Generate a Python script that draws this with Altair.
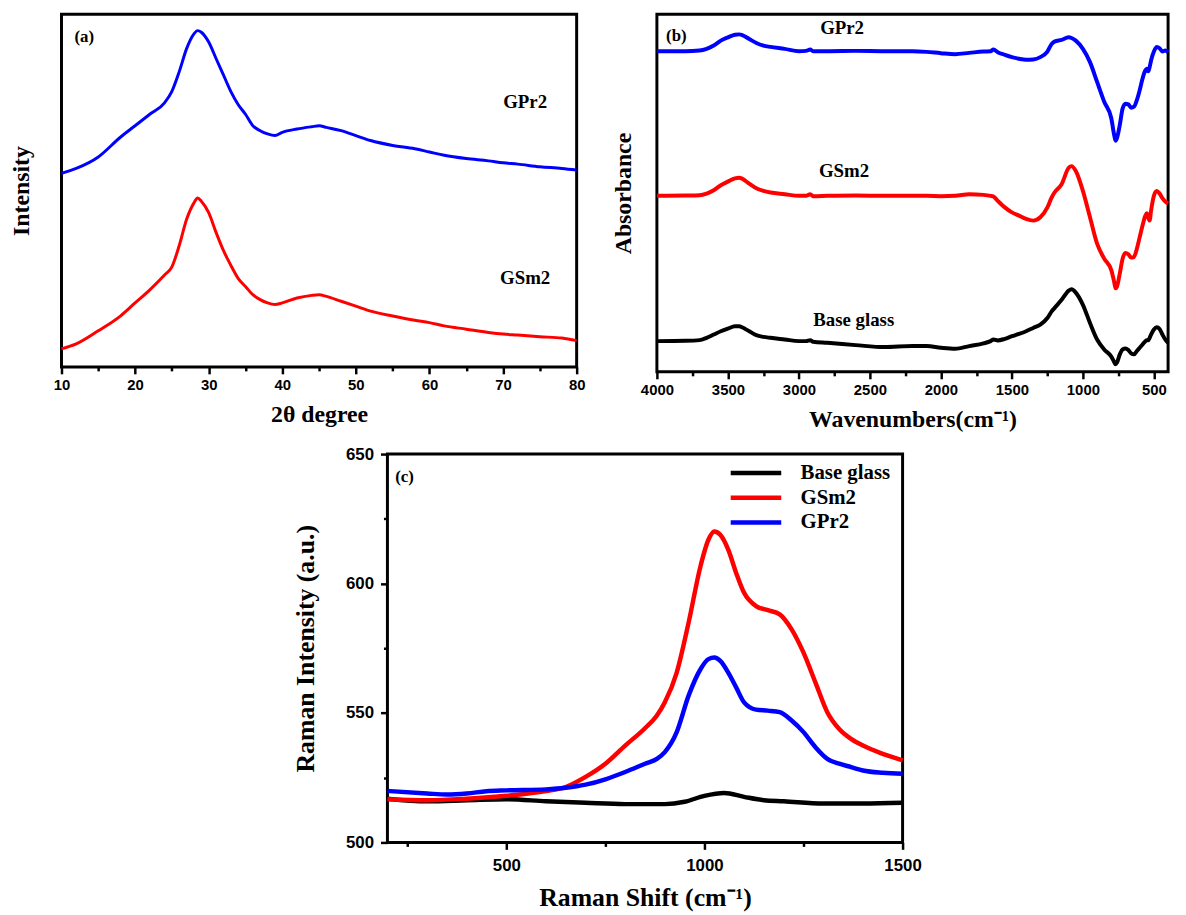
import altair as alt
import pandas as pd

# ---------------- (a) XRD ----------------
xrd_2theta = [10, 12, 15, 18, 20, 22, 24, 25, 26, 27, 28, 28.5, 29, 30, 31, 32, 33, 34, 35, 36,
              37, 38, 39, 40, 42, 44, 45, 46, 48, 50, 52, 55, 58, 60, 62, 65, 68, 70, 72, 75, 78, 80]
xrd_gpr2 = [590, 605, 640, 700, 735, 770, 805, 840, 900, 970, 1015, 1025, 1020, 990, 940, 890, 840, 800, 770, 735,
            720, 710, 705, 715, 725, 732, 735, 730, 720, 705, 690, 675, 665, 655, 645, 635, 628, 622, 618, 610, 605, 600]
xrd_gsm2 = [55, 70, 110, 155, 195, 235, 280, 305, 370, 450, 500, 515, 505, 470, 410, 355, 310, 270, 245, 220,
            205, 195, 190, 195, 210, 218, 220, 215, 200, 185, 170, 155, 142, 135, 125, 115, 105, 100, 97, 92, 88, 80]

# ---------------- (b) FTIR ----------------
ftir_wn = [4000, 3800, 3700, 3650, 3600, 3550, 3500, 3450, 3420, 3400,
           3350, 3300, 3250, 3200, 3100, 3000, 2950, 2920, 2900, 2800,
           2600, 2400, 2200, 2100, 2000, 1900, 1800, 1700, 1650, 1630,
           1600, 1550, 1500, 1450, 1400, 1350, 1300, 1250, 1220, 1200,
           1150, 1100, 1080, 1050, 1000, 950, 900, 850, 800, 780,
           770, 760, 740, 720, 700, 680, 660, 640, 620, 600,
           580, 560, 550, 540, 530, 520, 500, 480, 460, 440,
           420, 400]
ftir_gpr2 = [971, 971, 973, 978, 988, 1003, 1013, 1021, 1022, 1020,
             1008, 996, 988, 984, 978, 971, 972, 976, 971, 971,
             972, 971, 971, 969, 965, 962, 966, 970, 971, 976,
             968, 960, 953, 948, 945, 946, 953, 970, 993, 1000,
             1005, 1013, 1011, 1003, 978, 938, 878, 818, 768, 718,
             700, 708, 748, 798, 812, 810, 800, 803, 823, 853,
             888, 913, 918, 910, 923, 943, 970, 984, 980, 970,
             973, 968]
ftir_gsm2 = [533, 534, 535, 540, 550, 565, 576, 586, 588, 585,
             570, 556, 548, 543, 538, 533, 533, 538, 532, 533,
             534, 533, 533, 533, 532, 533, 538, 536, 533, 531,
             518, 498, 483, 473, 463, 458, 468, 498, 528, 543,
             568, 618, 623, 608, 548, 468, 388, 343, 308, 273,
             253, 258, 298, 343, 360, 356, 346, 348, 373, 408,
             443, 473, 480, 468, 458, 488, 533, 548, 540, 526,
             516, 510]
ftir_base = [93, 94, 96, 103, 113, 123, 131, 138, 138, 135,
             123, 111, 106, 103, 98, 93, 93, 96, 91, 88,
             81, 75, 78, 78, 73, 70, 78, 86, 93, 98,
             95, 100, 108, 115, 123, 133, 143, 163, 183, 193,
             218, 246, 250, 240, 203, 148, 98, 68, 46, 30,
             23, 28, 53, 68, 71, 66, 56, 53, 63, 73,
             83, 93, 96, 96, 103, 113, 128, 135, 130, 113,
             98, 88]

# ---------------- (c) Raman ----------------
raman_x_base = [200, 300, 400, 500, 600, 700, 800, 900, 950, 1000, 1050, 1100, 1150, 1200, 1300, 1400, 1500]
raman_base = [516.9, 515.9, 516.3, 516.7, 515.9, 515.3, 514.8, 514.8, 515.7, 518.0, 519.1, 517.6, 516.3,
              515.9, 515.0, 515.0, 515.3]
raman_x_gsm2 = [200, 300, 400, 500, 600, 650, 700, 750, 800, 850, 880, 900, 930, 960, 990, 1010, 1025, 1040,
                1060, 1080, 1100, 1130, 1160, 1190, 1220, 1250, 1280, 1310, 1340, 1370, 1400, 1450, 1500]
raman_gsm2 = [516.7, 516.3, 516.9, 518.0, 519.8, 521.4, 525.3, 530.4, 537.4, 544.1, 549.0, 554.1, 565.6, 584.9,
              606.7, 616.9, 620.1, 618.8, 613.1, 604.1, 596.4, 591.3, 589.7, 588.1, 582.3, 573.3, 561.8, 550.3,
              543.8, 540.0, 537.4, 534.2, 531.7]
raman_x_gpr2 = [200, 300, 350, 400, 450, 500, 600, 650, 700, 750, 800, 850, 880, 900, 930, 960, 990, 1010, 1025,
                1040, 1060, 1080, 1100, 1130, 1160, 1190, 1220, 1250, 1280, 1310, 1340, 1370, 1400, 1450, 1500]
raman_gpr2 = [519.9, 518.9, 518.5, 518.9, 519.8, 520.1, 520.5, 521.1, 522.3, 524.4, 527.2, 530.4, 532.3, 534.9,
              542.6, 556.7, 566.9, 570.8, 571.4, 570.1, 565.6, 559.9, 554.1, 551.3, 550.9, 550.3, 547.1, 542.6,
              536.8, 532.3, 530.4, 529.1, 527.8, 526.9, 526.5]

# ---------------- annotation labels ----------------
a_label_text = ["(a)", "GPr2", "GSm2"]
a_label_x = [13.1, 73, 73]
a_label_y = [1006, 806, 271]
a_label_size = [17, 19, 19]

b_label_text = ["(b)", "GPr2", "GSm2", "Base glass"]
b_label_x = [3863, 2696, 2682, 2614]
b_label_y = [1018, 1040, 608, 158]
b_label_size = [17, 19, 19, 19]

c_label_text = ["(c)"]
c_label_x = [243]
c_label_y = [641]
c_label_size = [17]

SANS = "Liberation Sans"
SERIF = "Liberation Serif"


def tick_axis(values, major, title, label_size, label_pad, title_size, title_pad):
    return alt.Axis(
        values=values, format="d",
        labelExpr=f"datum.value % {major} === 0 ? datum.label : ''",
        tickSize={"condition": {"test": f"datum.value % {major} !== 0", "value": 4}, "value": 7},
        tickWidth=2.5, tickColor="black", domain=False, grid=False,
        labelFont=SANS, labelFontWeight="bold", labelFontSize=label_size, labelColor="black",
        labelPadding=label_pad, labelFlush=False, labelOverlap=False,
        title=title, titleFont=SERIF, titleFontWeight="bold", titleFontSize=title_size,
        titleColor="black", titlePadding=title_pad,
    )


def blank_axis(title, title_size, title_pad):
    return alt.Axis(labels=False, ticks=False, domain=False, grid=False, title=title,
                    titleFont=SERIF, titleFontWeight="bold", titleFontSize=title_size,
                    titleColor="black", titlePadding=title_pad)


# ---- panel (a)
n_a = len(xrd_2theta)
xrd_df = pd.DataFrame({
    "two_theta": xrd_2theta + xrd_2theta,
    "intensity": xrd_gpr2 + xrd_gsm2,
    "sample": ["GPr2"] * n_a + ["GSm2"] * n_a,
})
a_lab_df = pd.DataFrame({"two_theta": a_label_x, "intensity": a_label_y, "label": a_label_text, "fs": a_label_size})
xa = alt.X("two_theta:Q", scale=alt.Scale(domain=[10, 80], nice=False, zero=False),
           axis=tick_axis(list(range(10, 81, 5)), 10, "2θ degree", 15, 4, 24, 10))
ya = alt.Y("intensity:Q", scale=alt.Scale(domain=[0, 1075], nice=False, zero=False),
           axis=blank_axis("Intensity", 24, 28))
lines_a = alt.Chart(xrd_df).mark_line(strokeWidth=3, interpolate="monotone").encode(
    x=xa, y=ya,
    color=alt.Color("sample:N", scale=alt.Scale(domain=["GPr2", "GSm2"], range=["#0000ff", "#ff0000"]), legend=None),
)
text_a = alt.Chart(a_lab_df).mark_text(font=SERIF, fontWeight="bold", color="black").encode(
    x=xa, y=ya, text="label:N", size=alt.Size("fs:Q", scale=None))
panel_a = alt.layer(lines_a, text_a).properties(width=520, height=356)

# ---- panel (b)
n_b = len(ftir_wn)
ftir_df = pd.DataFrame({
    "wavenumber": ftir_wn * 3,
    "absorbance": ftir_gpr2 + ftir_gsm2 + ftir_base,
    "sample": ["GPr2"] * n_b + ["GSm2"] * n_b + ["Base glass"] * n_b,
})
b_lab_df = pd.DataFrame({"wavenumber": b_label_x, "absorbance": b_label_y, "label": b_label_text, "fs": b_label_size})
xb = alt.X("wavenumber:Q", scale=alt.Scale(domain=[400, 4000], reverse=True, nice=False, zero=False),
           axis=tick_axis(list(range(500, 4001, 250)), 500, "Wavenumbers(cm⁻¹)", 15, 4, 24, 10))
yb = alt.Y("absorbance:Q", scale=alt.Scale(domain=[0, 1083], nice=False, zero=False),
           axis=blank_axis("Absorbance", 24, 22))
lines_b = alt.Chart(ftir_df).mark_line(strokeWidth=4, interpolate="monotone").encode(
    x=xb, y=yb,
    color=alt.Color("sample:N", scale=alt.Scale(domain=["Base glass", "GSm2", "GPr2"],
                                                range=["#000000", "#ff0000", "#0000ff"]), legend=None),
)
text_b = alt.Chart(b_lab_df).mark_text(font=SERIF, fontWeight="bold", color="black").encode(
    x=xb, y=yb, text="label:N", size=alt.Size("fs:Q", scale=None))
panel_b = alt.layer(lines_b, text_b).properties(width=516, height=361)

# ---- panel (c)
raman_df = pd.DataFrame({
    "shift": raman_x_base + raman_x_gsm2 + raman_x_gpr2,
    "intensity": raman_base + raman_gsm2 + raman_gpr2,
    "sample": ["Base glass"] * len(raman_x_base) + ["GSm2"] * len(raman_x_gsm2) + ["GPr2"] * len(raman_x_gpr2),
})
c_lab_df = pd.DataFrame({"shift": c_label_x, "intensity": c_label_y, "label": c_label_text, "fs": c_label_size})
xc = alt.X("shift:Q", scale=alt.Scale(domain=[200, 1500], nice=False, zero=False),
           axis=tick_axis([250, 500, 750, 1000, 1250, 1500], 500, "Raman Shift (cm⁻¹)", 17, 8, 26, 12))
yc = alt.Y("intensity:Q", scale=alt.Scale(domain=[500, 650], nice=False, zero=False),
           axis=tick_axis([500, 525, 550, 575, 600, 625, 650], 50, "Raman Intensity (a.u.)", 17, 7, 26, 27))
lines_c = alt.Chart(raman_df).mark_line(strokeWidth=4.5, interpolate="monotone").encode(
    x=xc, y=yc,
    color=alt.Color("sample:N",
                    scale=alt.Scale(domain=["Base glass", "GSm2", "GPr2"], range=["#000000", "#ff0000", "#0000ff"]),
                    legend=alt.Legend(title=None, orient="none", legendX=361, legendY=8,
                                      symbolType="M-3,0H3", symbolSize=289, symbolStrokeWidth=4.5,
                                      labelFont=SERIF, labelFontWeight="bold", labelFontSize=21,
                                      labelColor="black", labelOffset=34, rowPadding=4)),
)
text_c = alt.Chart(c_lab_df).mark_text(font=SERIF, fontWeight="bold", color="black").encode(
    x=xc, y=yc, text="label:N", size=alt.Size("fs:Q", scale=None))
panel_c = alt.layer(lines_c, text_c).properties(width=520, height=392)

spacer = alt.Chart(pd.DataFrame({"v": [0.5]})).mark_point(opacity=0).encode(
    x=alt.X("v:Q", axis=None, scale=alt.Scale(domain=[0, 1])),
    y=alt.Y("v:Q", axis=None, scale=alt.Scale(domain=[0, 1])),
).properties(width=230, height=10, view=alt.ViewBackground(stroke="transparent"))

top = alt.hconcat(panel_a, panel_b, spacing=23).resolve_scale(color="independent", size="independent")
bottom = alt.hconcat(spacer, panel_c, spacing=0).resolve_scale(color="independent", size="independent")
chart = alt.vconcat(top, bottom, spacing=10).resolve_scale(
    color="independent", size="independent").properties(padding=0, background="white").configure_view(
    stroke="black", strokeWidth=3)

chart.save("out.html", embed_options={"renderer": "svg", "actions": False})
